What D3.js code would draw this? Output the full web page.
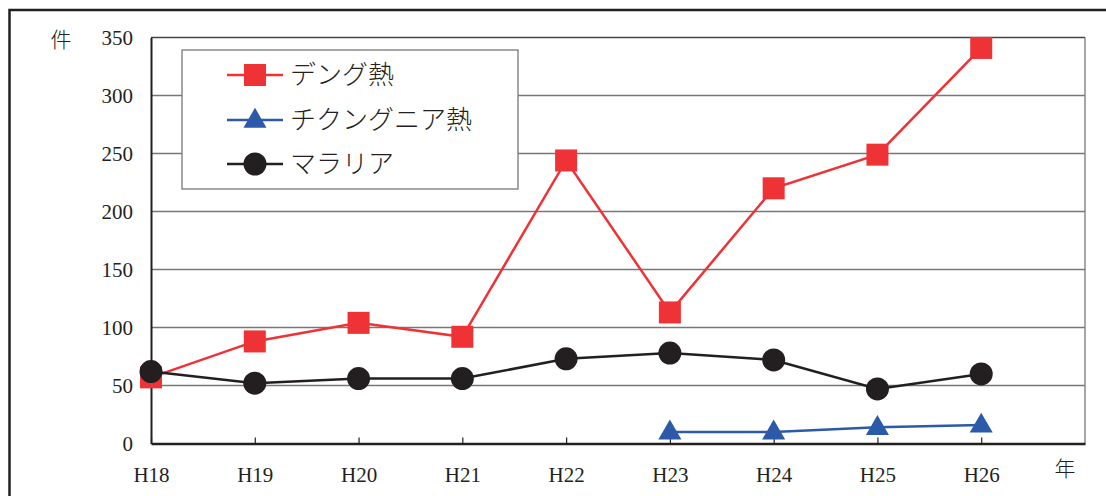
<!doctype html>
<html>
<head>
<meta charset="utf-8">
<script src="https://cdn.jsdelivr.net/npm/d3@7"></script>
<style>
  body { margin: 0; background: #fff; }
  svg text { font-family: "Liberation Serif", "DejaVu Serif", serif; fill: #231f20; }
  .jp { font-family: "Noto Sans CJK JP", sans-serif; font-weight: 300; }
</style>
</head>
<body>
<svg id="chart" width="1106" height="496"></svg>
<script>
  // data
  var years = ["H18", "H19", "H20", "H21", "H22", "H23", "H24", "H25", "H26"];
  var dengue = [57, 88, 104, 92, 244, 113, 220, 249, 341];
  var chikungunya = [null, null, null, null, null, 10, 10, 14, 16];
  var malaria = [62, 52, 56, 56, 73, 78, 72, 47, 60];
  var yTicks = [0, 50, 100, 150, 200, 250, 300, 350];

  var series = [
    {name: "デング熱", values: dengue, color: "#ee3236", shape: "square"},
    {name: "チクングニア熱", values: chikungunya, color: "#2d59a9", shape: "triangle"},
    {name: "マラリア", values: malaria, color: "#231f20", shape: "circle"}
  ];

  (function() {
    var plotLeft = 151, plotRight = 1085, plotTop = 37.5, plotBottom = 443.5;
    var svg = d3.select("#chart");

    // outer frame
    svg.append("rect").attr("x", 9.5).attr("y", 10).attr("width", 1110).attr("height", 500)
      .attr("fill", "none").attr("stroke", "#231f20").attr("stroke-width", 2.5);

    var x = d3.scaleLinear().domain([0, years.length]).range([plotLeft, plotRight]);
    var y = d3.scaleLinear().domain([0, 350]).range([plotBottom, plotTop]);

    // gridlines
    svg.append("g").selectAll("line").data(yTicks.filter(function(d) { return d > 0; }))
      .enter().append("line")
      .attr("x1", plotLeft).attr("x2", plotRight)
      .attr("y1", function(d) { return y(d); }).attr("y2", function(d) { return y(d); })
      .attr("stroke", function(d) { return d === 350 ? "#444" : "#777"; })
      .attr("stroke-width", 1.3);
    svg.append("line").attr("x1", plotRight).attr("x2", plotRight).attr("y1", plotTop).attr("y2", plotBottom)
      .attr("stroke", "#777").attr("stroke-width", 1.3);

    // y axis
    var yAxis = svg.append("g").attr("transform", "translate(" + plotLeft + ",0)")
      .call(d3.axisLeft(y).tickValues(yTicks).tickSize(0).tickPadding(18));
    yAxis.select(".domain").attr("stroke", "#231f20").attr("stroke-width", 2);
    yAxis.selectAll("text").attr("font-size", 21).attr("font-family", "Liberation Serif").attr("fill", "#231f20");

    // x axis
    var xAxis = svg.append("g").attr("transform", "translate(0," + plotBottom + ")")
      .call(d3.axisBottom(x).tickValues(d3.range(years.length)).tickSizeInner(-6).tickSizeOuter(0)
        .tickPadding(24).tickFormat(function(i) { return years[i]; }));
    xAxis.select(".domain").attr("stroke", "#231f20").attr("stroke-width", 2.5);
    xAxis.selectAll(".tick line").attr("stroke", "#231f20").attr("stroke-width", 1.2);
    xAxis.selectAll("text").attr("font-size", 21).attr("font-family", "Liberation Serif").attr("fill", "#231f20");

    // unit labels
    svg.append("text").attr("class", "jp").attr("x", 61).attr("y", 47).attr("text-anchor", "middle")
      .attr("font-size", 21).text("件");
    svg.append("text").attr("class", "jp").attr("x", 1065).attr("y", 476).attr("text-anchor", "middle")
      .attr("font-size", 21).text("年");

    var tri = d3.symbol().type(d3.symbolTriangle).size(230);
    function drawMarker(g, shape, color) {
      if (shape === "square") {
        g.append("rect").attr("x", -11).attr("y", -11).attr("width", 22).attr("height", 22).attr("fill", color);
      } else if (shape === "circle") {
        g.append("circle").attr("r", 11.5).attr("fill", color);
      } else {
        g.append("path").attr("d", tri).attr("transform", "translate(0,1)").attr("fill", color);
      }
    }

    var line = d3.line()
      .defined(function(d) { return d != null; })
      .x(function(d, i) { return x(i); })
      .y(function(d) { return y(d); });

    // dengue first, malaria markers end up on top
    series.forEach(function(s) {
      svg.append("path").attr("d", line(s.values)).attr("fill", "none")
        .attr("stroke", s.color).attr("stroke-width", 2.5);
      s.values.forEach(function(v, i) {
        if (v == null) return;
        var g = svg.append("g").attr("transform", "translate(" + x(i) + "," + y(v) + ")");
        drawMarker(g, s.shape, s.color);
      });
    });

    // legend
    var lg = svg.append("g");
    lg.append("rect").attr("x", 182).attr("y", 50).attr("width", 336).attr("height", 139)
      .attr("fill", "#fff").attr("stroke", "#777").attr("stroke-width", 1.3);
    var rowY = [75, 120, 164];
    series.forEach(function(s, i) {
      lg.append("line").attr("x1", 227).attr("x2", 283).attr("y1", rowY[i]).attr("y2", rowY[i])
        .attr("stroke", s.color).attr("stroke-width", 2.5);
      drawMarker(lg.append("g").attr("transform", "translate(255," + rowY[i] + ")"), s.shape, s.color);
      lg.append("text").attr("class", "jp").attr("x", 290).attr("y", rowY[i] + 9)
        .attr("font-size", 26).text(s.name);
    });
  })();
</script>
</body>
</html>
